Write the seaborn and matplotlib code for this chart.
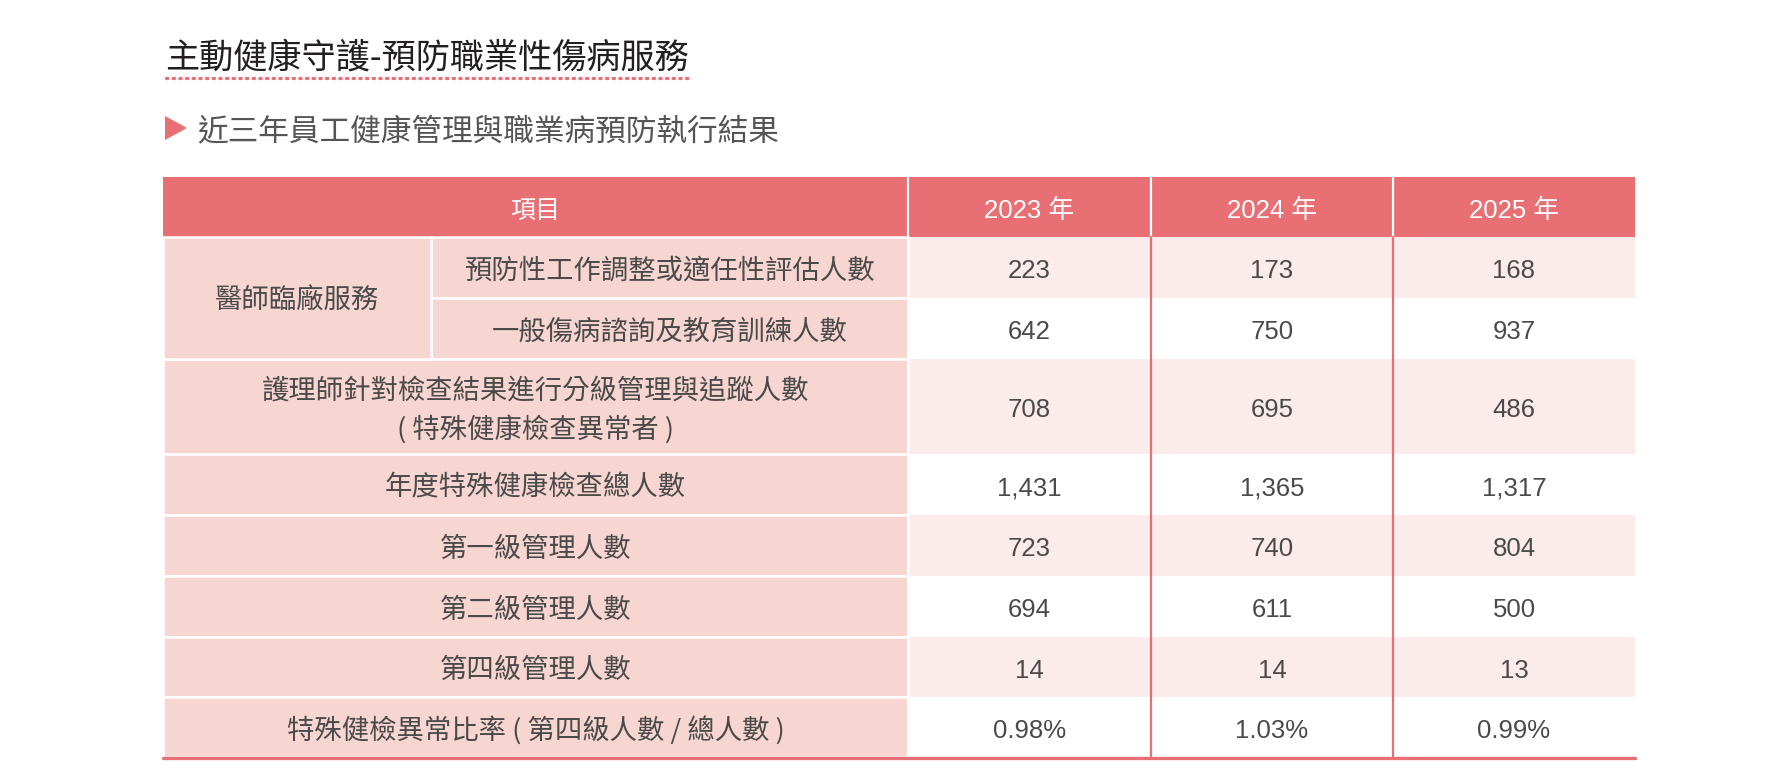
import pandas as pd
import seaborn as sns
import matplotlib.pyplot as plt
from matplotlib.patches import Rectangle, Polygon

# ---- data ----
title = "主動健康守護-預防職業性傷病服務"
subtitle = "近三年員工健康管理與職業病預防執行結果"
header_item = "項目"
years = ["2023 年", "2024 年", "2025 年"]
group_label = "醫師臨廠服務"
items = [
    "預防性工作調整或適任性評估人數",
    "一般傷病諮詢及教育訓練人數",
    "護理師針對檢查結果進行分級管理與追蹤人數\n( 特殊健康檢查異常者 )",
    "年度特殊健康檢查總人數",
    "第一級管理人數",
    "第二級管理人數",
    "第四級管理人數",
    "特殊健檢異常比率 ( 第四級人數 / 總人數 )",
]
counts_2023 = [223, 642, 708, 1431, 723, 694, 14]
counts_2024 = [173, 750, 695, 1365, 740, 611, 14]
counts_2025 = [168, 937, 486, 1317, 804, 500, 13]
rate_2023 = 0.98
rate_2024 = 1.03
rate_2025 = 0.99


def fmt_column(counts, rate):
    return [f"{c:,}" for c in counts] + [f"{rate:.2f}%"]


table = pd.DataFrame({
    years[0]: fmt_column(counts_2023, rate_2023),
    years[1]: fmt_column(counts_2024, rate_2024),
    years[2]: fmt_column(counts_2025, rate_2025),
}, index=items)

# ---- style ----
RED = "#E87074"
LABEL_BG = "#F7D6D1"
STRIPE = "#FBECEB"
TXT = "#4a4a4a"
CJK = ["Noto Sans CJK TC", "DejaVu Sans"]
NUM = ["Liberation Sans", "Noto Sans CJK TC", "DejaVu Sans"]
DY = 3.5  # small downward nudge so text sits like in the source

sns.set_theme(style="white")
plt.rcParams["font.family"] = CJK

fig = plt.figure(figsize=(17.89, 7.78), dpi=100)
ax = fig.add_axes([0, 0, 1, 1])
ax.set_xlim(0, 1789)
ax.set_ylim(778, 0)
ax.axis("off")

# layout (pixels)
x0, x_sub, x_item, x_end = 163, 431, 908, 1635
col_edges = [x_item, 1151, 1393, x_end]
head_top, head_bot = 177, 237
row_edges = [237, 298, 359, 454, 515, 576, 637, 697, 757]

# title + dotted underline
ax.text(165, 55 + DY, title, fontsize=24.6, color="#231f20", va="center", ha="left")
ax.plot([166, 688], [78, 78], color=RED, lw=2.4, ls=(0, (0.4, 1.6)),
        solid_capstyle="round", dash_capstyle="round")

# subtitle with triangle marker
ax.add_patch(Polygon([[165, 116], [187, 128], [165, 140]], closed=True,
                     color=RED, lw=0))
ax.text(197, 128 + DY, subtitle, fontsize=22.1, color="#555555", va="center", ha="left")

# header
ax.add_patch(Rectangle((x0, head_top), x_end - x0, head_bot - head_top,
                       color=RED, lw=0))
ax.text((x0 + x_item) / 2, (head_top + head_bot) / 2 + DY, header_item,
        fontsize=18, color="white", ha="center", va="center")
for i, yr in enumerate(table.columns):
    cx = (col_edges[i] + col_edges[i + 1]) / 2
    ax.text(cx, (head_top + head_bot) / 2 + DY, yr, fontsize=18.5, color="white",
            ha="center", va="center", family=NUM)
for xe in col_edges[:-1]:
    ax.plot([xe, xe], [head_top, head_bot], color="white", lw=1.6)

# data rows
for r, (label, row) in enumerate(table.iterrows()):
    top, bot = row_edges[r], row_edges[r + 1]
    cy = (top + bot) / 2 + DY
    stripe = STRIPE if r % 2 == 0 else "white"
    ax.add_patch(Rectangle((x_item, top), x_end - x_item, bot - top,
                           color=stripe, lw=0))
    # label cell
    lx = x_sub if r < 2 else x0
    ax.add_patch(Rectangle((lx, top), x_item - lx, bot - top,
                           facecolor=LABEL_BG, edgecolor="white", lw=1.8))
    lines = label.split("\n")
    lcx = (lx + x_item) / 2
    if len(lines) == 1:
        ax.text(lcx, cy, label, fontsize=19.7, color=TXT, ha="center", va="center")
    else:
        ax.text(lcx, cy - 19, lines[0], fontsize=19.7, color=TXT,
                ha="center", va="center")
        ax.text(lcx, cy + 19, lines[1], fontsize=19.7, color=TXT,
                ha="center", va="center")
    for i, val in enumerate(row):
        cx = (col_edges[i] + col_edges[i + 1]) / 2
        ax.text(cx, cy, val, fontsize=18.5, color=TXT, ha="center",
                va="center", family=NUM)

# merged group cell
ax.add_patch(Rectangle((x0, row_edges[0]), x_sub - x0, row_edges[2] - row_edges[0],
                       facecolor=LABEL_BG, edgecolor="white", lw=1.8))
ax.text((x0 + x_sub) / 2, row_edges[1] + DY, group_label, fontsize=19.7, color=TXT,
        ha="center", va="center")

# grid lines in the data area
ax.plot([x_item, x_item], [head_bot, row_edges[-1]], color="white", lw=2.2)
for xe in col_edges[1:-1]:
    ax.plot([xe, xe], [head_bot, row_edges[-1]], color=RED, lw=1.6)
ax.plot([x0, x_end], [row_edges[-1] + 0.5, row_edges[-1] + 0.5], color=RED, lw=2.4)

fig.savefig("out.png", dpi=100, facecolor="white")
